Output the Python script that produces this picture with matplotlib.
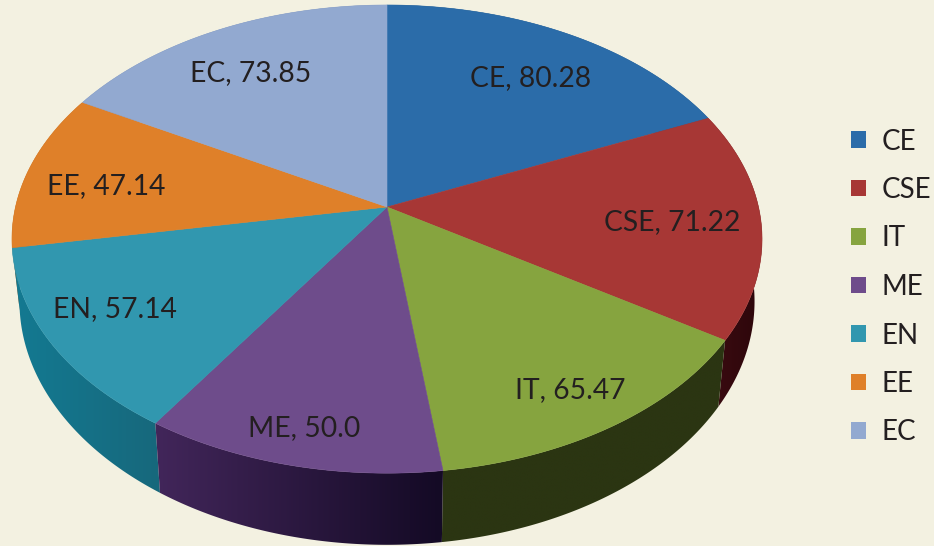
import numpy as np
import matplotlib
matplotlib.use('Agg')
import matplotlib.pyplot as plt
from matplotlib.patches import Patch, Polygon

plt.rcParams['font.family'] = ['Lato', 'DejaVu Sans']

# chart data
branches = ['CE', 'CSE', 'IT', 'ME', 'EN', 'EE', 'EC']
scores = [80.28, 71.22, 65.47, 50.0, 57.14, 47.14, 73.85]
score_labels = ['80.28', '71.22', '65.47', '50.0', '57.14', '47.14', '73.85']

# colours
top_colors = ['#2b6ca9', '#a73735', '#86a43f', '#6e4c8b', '#3197af', '#df8029', '#92a9d0']
side_start = ['#1a4468', '#3d0c12', '#2b3512', '#140a25', '#17687c', '#9c5a1c', '#66769a']
side_end = ['#1a4468', '#2c060a', '#2b3512', '#42265a', '#137a92', '#9c5a1c', '#66769a']
bg = '#f3f1e1'
text_color = '#231f20'

# label centres in pixels
label_pos = [(531, 78), (672, 222), (570, 390), (304, 428), (115, 309), (106, 186), (251, 73)]

# pie centre and perspective
cx, cy = 387, 207
a, b, k = 371.5, 229.7, 0.137
# small angle correction so the slices sit like the original drawing
warp_t = [0, 65, 123, 176, 216, 263, 301, 360]
warp_d = [0, 1, 0, -3, -2.4, -2.1, -1.2, 0]


def project(t):
    # t in degrees clockwise from the top, gives offsets from the centre
    t = np.radians(t + np.interp(t, warp_t, warp_d))
    s = 1 / (1 + k * np.cos(t))
    return a * np.sin(t) * s, -b * np.cos(t) * s


fig = plt.figure(figsize=(9.34, 5.46), dpi=100, facecolor=bg)
ax = fig.add_axes([0, 0, 1, 1])
ax.axis('off')

edges = np.concatenate([[0], np.cumsum(scores)]) / sum(scores) * 360
mids = (edges[:-1] + edges[1:]) / 2

# sides first, back slices before front ones
for i in np.argsort(-np.cos(np.radians(mids))):
    x, y = project(np.linspace(edges[i], edges[i + 1], 150))
    px = np.concatenate([cx + x, cx + 0.98 * x[::-1]])
    py = np.concatenate([cy + y, 268 + 1.04 * y[::-1]])
    c1 = np.array(matplotlib.colors.to_rgb(side_start[i]))
    c2 = np.array(matplotlib.colors.to_rgb(side_end[i]))
    # gradient runs along x, from the slice's first edge to its last
    if x[0] > x[-1]:
        c1, c2 = c2, c1
    grad = np.linspace(0, 1, 64)[None, :, None]
    img = c1 + (c2 - c1) * grad
    clip = Polygon(np.c_[px, py], closed=True, transform=ax.transData)
    ax.imshow(img, extent=[px.min(), px.max(), py.max(), py.min()], aspect='auto',
              interpolation='bilinear', clip_path=clip, zorder=2)

for i in range(len(scores)):
    x, y = project(np.linspace(edges[i], edges[i + 1], 150))
    ax.fill(np.r_[cx, cx + x], np.r_[cy, cy + y], color=top_colors[i], lw=0.4, zorder=3)
    ax.text(label_pos[i][0], label_pos[i][1], f'{branches[i]}, {score_labels[i]}',
            ha='center', va='center', fontsize=20.3, color=text_color, zorder=4)

ax.set_xlim(0, 934)
ax.set_ylim(546, 0)

handles = [Patch(color=c, lw=0) for c in top_colors]
ax.legend(handles, branches, loc='center left', bbox_to_anchor=(851 / 934, 1 - 287 / 546),
          frameon=False, fontsize=20, labelcolor=text_color, borderpad=0, borderaxespad=0,
          handlelength=0.54, handleheight=0.54, handletextpad=0.57, labelspacing=0.81)

fig.savefig('out.png', dpi=100, facecolor=bg)
